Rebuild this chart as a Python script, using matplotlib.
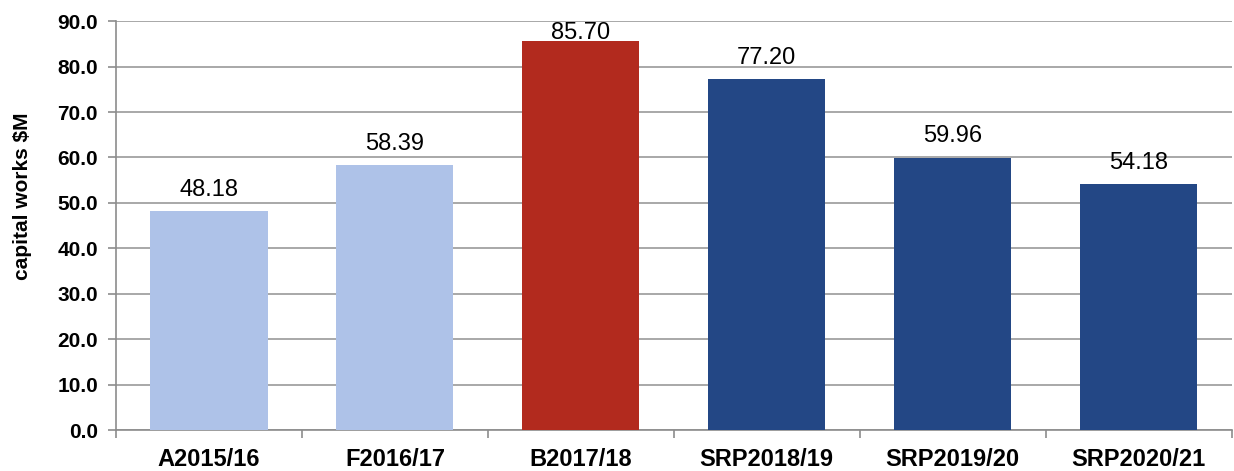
import numpy as np
import matplotlib.pyplot as plt

years = ['A2015/16', 'F2016/17', 'B2017/18', 'SRP2018/19', 'SRP2019/20', 'SRP2020/21']
capital_works = [48.18, 58.39, 85.70, 77.20, 59.96, 54.18]
bar_colors = ['#AEC2E8', '#AEC2E8', '#B22A1E', '#234785', '#234785', '#234785']

plt.rcParams['font.family'] = ['Liberation Sans', 'DejaVu Sans']

fig = plt.figure(figsize=(12.34, 4.71), dpi=100)
ax = fig.add_axes([0.094, 0.087, 0.904, 0.868])

x = np.arange(len(years))
ymax = 90
ax.bar(x, capital_works, width=0.63, color=bar_colors, zorder=3)
for xi, v in zip(x, capital_works):
    # labels that would run off the top sit right on the bar
    off = 11 if v + 7 < ymax else 1.5
    ax.annotate(f'{v:.2f}', (xi, v), xytext=(0, off), textcoords='offset points',
                ha='center', va='baseline', fontsize=17, zorder=4, annotation_clip=False)

ax.set_xlim(-0.5, len(years) - 0.5)
ax.set_ylim(0, ymax)
ticks = np.arange(0, ymax + 1, 10)
ax.set_yticks(ticks)
ax.set_yticklabels([f'{t:.1f}' for t in ticks], fontsize=15, fontweight='bold')
ax.yaxis.grid(True, color='#9a9a9a', linewidth=1.2, zorder=0)

# category labels sit in the middle, tick marks sit between categories
ax.set_xticks(x)
ax.set_xticklabels(years, fontsize=17, fontweight='bold')
ax.tick_params(axis='x', which='major', length=0, pad=13)
ax.set_xticks(np.arange(-0.5, len(years) + 0.5, 1), minor=True)
ax.tick_params(axis='x', which='minor', length=6, color='#8c8c8c', width=1.2)
ax.tick_params(axis='y', length=6, color='#8c8c8c', width=1.2, pad=7)

for side in ['top', 'right']:
    ax.spines[side].set_visible(False)
for side in ['left', 'bottom']:
    ax.spines[side].set_color('#8c8c8c')
    ax.spines[side].set_linewidth(1.2)

ax.set_ylabel('capital works $M', fontsize=15, fontweight='bold')
ax.yaxis.set_label_coords(-0.075, 0.572)

fig.savefig('out.png', dpi=100)
